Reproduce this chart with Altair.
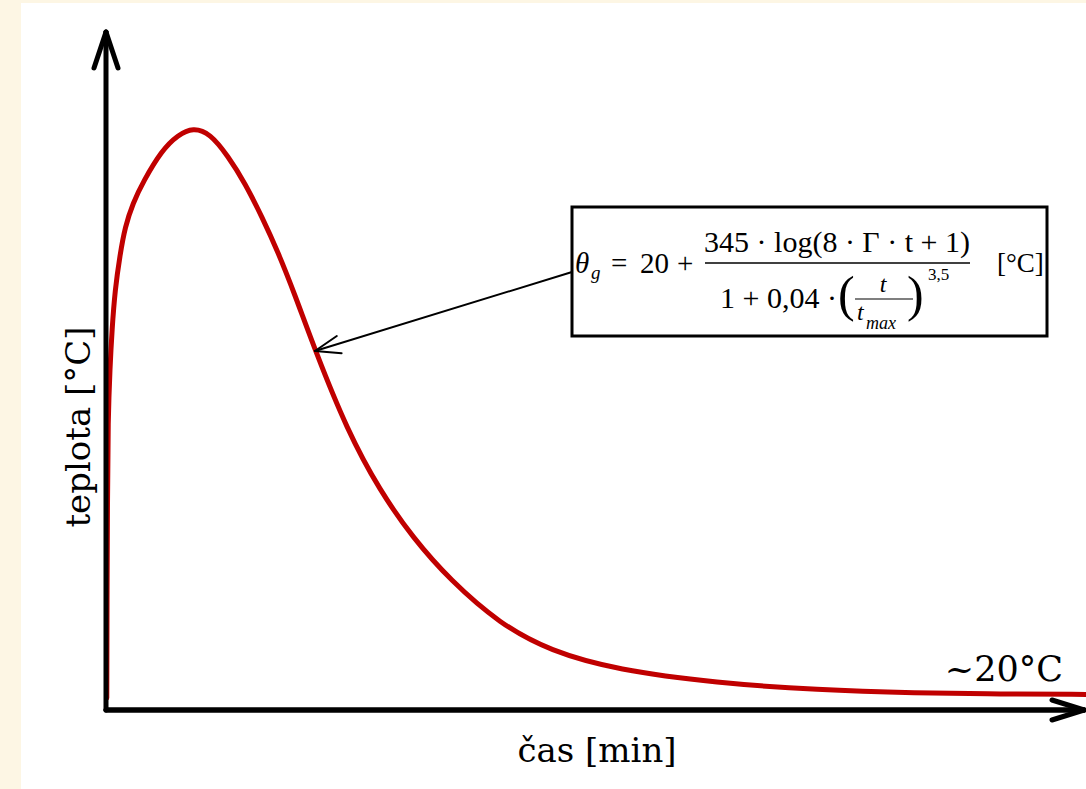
import altair as alt
import pandas as pd

# --- data ---
time_min = [0.2, 0.25, 0.375, 0.5, 1.0, 1.5, 2.25, 3.5, 4.75, 6.75, 9.25, 14, 18, 21.75,
            26, 30.5, 34.75, 39, 43, 47.25, 52.25, 60.25, 68.5, 76.75, 86, 98.5, 111,
            127.75, 152.75, 177.75, 202.75, 223.5, 245]
temp_c = [15, 137.5, 262.5, 362.5, 428.75, 475, 525, 568.75, 603.75, 633.75, 660, 700,
          718.75, 728, 721, 692.5, 658.75, 616.25, 572.5, 518.75, 450, 350,
          273.75, 215, 162.5, 107.5, 73.75, 50, 33.75, 25, 21.25, 20, 19.5]

# axis arrows (data coordinates: minutes, °C)
axis_x0 = [0, 0, -3.0, 3.0, 0, 236.5, 236.5]
axis_y0 = [0, 0, 802.5, 802.5, 0, 12.5, -12.5]
axis_x1 = [0, 244.5, 0, 0, 244.5, 244.5, 244.5]
axis_y1 = [847.5, 0, 847.5, 847.5, 0, 0, 0]

# annotation arrow from formula box to the curve
ann_x0 = [116.5, 57.7, 58.9]
ann_y0 = [547.5, 467.5, 445.9]
ann_x1 = [52.25, 52.25, 52.25]
ann_y1 = [448.75, 448.75, 448.75]

box_t = [116.5, 235.25]
box_T = [467.5, 628.75]

RED = "#C00000"
CREAM = "#FDF6E4"
LABEL_FONT = "DejaVu Serif"
MATH_FONT = "Liberation Serif"

xs = alt.Scale(domain=[-26.5, 245], nice=False, zero=False)
ys = alt.Scale(domain=[-98.75, 887.5], nice=False, zero=False)

curve_df = pd.DataFrame({"t": time_min, "T": temp_c})
axes_df = pd.DataFrame({"x": axis_x0, "y": axis_y0, "x2": axis_x1, "y2": axis_y1})
ann_df = pd.DataFrame({"x": ann_x0, "y": ann_y0, "x2": ann_x1, "y2": ann_y1})
box_df = pd.DataFrame({"x": [box_t[0]], "x2": [box_t[1]], "y": [box_T[0]], "y2": [box_T[1]]})
one = pd.DataFrame({"a": [0]})

white = alt.Chart(one).mark_rect(color="white").encode(
    x=alt.value(21), x2=alt.value(1086), y=alt.value(3), y2=alt.value(789))

curve = alt.Chart(curve_df).mark_line(color=RED, strokeWidth=5, interpolate="basis",
                                      strokeCap="round").encode(
    x=alt.X("t:Q", scale=xs, axis=None),
    y=alt.Y("T:Q", scale=ys, axis=None))

axes = alt.Chart(axes_df).mark_rule(color="black", strokeWidth=5, strokeCap="round").encode(
    x=alt.X("x:Q", scale=xs, axis=None), y=alt.Y("y:Q", scale=ys, axis=None),
    x2="x2:Q", y2="y2:Q")

box = alt.Chart(box_df).mark_rect(fill="white", stroke="black", strokeWidth=3).encode(
    x=alt.X("x:Q", scale=xs, axis=None), y=alt.Y("y:Q", scale=ys, axis=None),
    x2="x2:Q", y2="y2:Q")

ann = alt.Chart(ann_df).mark_rule(color="black", strokeWidth=2, strokeCap="round").encode(
    x=alt.X("x:Q", scale=xs, axis=None), y=alt.Y("y:Q", scale=ys, axis=None),
    x2="x2:Q", y2="y2:Q")


def txt(s, x, y, size, font=MATH_FONT, italic=False, align="left", baseline="alphabetic", angle=0):
    kw = dict(font=font, fontSize=size, align=align, baseline=baseline, color="black")
    if italic:
        kw["fontStyle"] = "italic"
    if angle:
        kw["angle"] = angle
    return alt.Chart(pd.DataFrame({"s": [s]})).mark_text(**kw).encode(
        text="s:N", x=alt.value(x), y=alt.value(y))


def hbar(x1, x2, y, w=1.5):
    return alt.Chart(one).mark_rule(color="black", strokeWidth=w).encode(
        x=alt.value(x1), x2=alt.value(x2), y=alt.value(y))


texts = [
    txt("teplota [°C]", 80, 427, 34, font=LABEL_FONT, align="center", baseline="middle", angle=270),
    txt("čas [min]", 597, 762, 34, font=LABEL_FONT, align="center"),
    txt("~20°C", 1063, 681, 35, font=LABEL_FONT, align="right"),
    # formula
    txt("θ", 575, 273, 29, italic=True),
    txt("g", 591, 279, 19, italic=True),
    txt("=", 611, 273, 29),
    txt("20", 640, 273, 29),
    txt("+", 677, 273, 29),
    txt("345 · log(8 · Γ · t + 1)", 837, 252, 30, align="center"),
    hbar(705, 970, 263),
    txt("1 + 0,04 · ", 720, 308, 30),
    txt("(", 838, 311, 50),
    txt("t", 883, 292, 24, italic=True, align="center"),
    hbar(855, 913, 299, 1.2),
    txt("t", 857, 320, 24, italic=True),
    txt("max", 866, 329, 18, italic=True),
    txt(")", 907, 311, 50),
    txt("3,5", 928, 280, 17),
    txt("[°C]", 997, 272, 27),
]

chart = alt.layer(white, curve, axes, box, ann, *texts).properties(
    width=1086, height=789, padding=0, autosize=alt.AutoSizeParams(type="none"),
    background=CREAM
).configure_view(stroke=None)

chart.save("out.html", embed_options={"renderer": "svg", "actions": False})
